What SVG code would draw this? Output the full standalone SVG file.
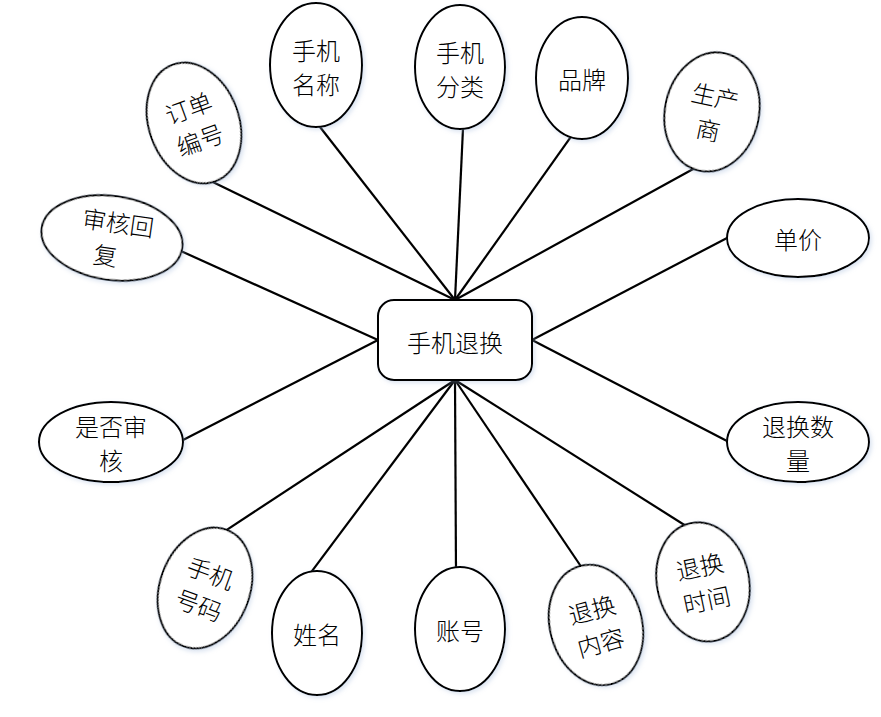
<svg xmlns="http://www.w3.org/2000/svg" width="881" height="717" viewBox="0 0 881 717">
<style>
.n{fill:#fff;stroke:#000;stroke-width:2;filter:url(#sh)}
.t{font-family:"Noto Sans CJK SC","Noto Sans",sans-serif;font-size:24px;font-weight:300;fill:#000;text-anchor:middle;dominant-baseline:central}
.c{stroke:#000;stroke-width:2.2;fill:none}
</style>
<defs>
<filter id="sh" x="-20%" y="-20%" width="140%" height="140%">
<feDropShadow dx="2" dy="2" stdDeviation="2" flood-color="#9bb4d6" flood-opacity="0.35"/>
</filter>
</defs>
<rect width="881" height="717" fill="#fff"/>
<g id="connectors">
<line class="c" x1="207.6" y1="179.4" x2="455" y2="300"/>
<line class="c" x1="316.3" y1="122.3" x2="455" y2="300"/>
<line class="c" x1="463.3" y1="122" x2="455" y2="300"/>
<line class="c" x1="573.5" y1="133.1" x2="455" y2="300"/>
<line class="c" x1="695" y1="168" x2="455" y2="300"/>
<line class="c" x1="732.3" y1="235.2" x2="532" y2="340"/>
<line class="c" x1="177.5" y1="249.5" x2="378" y2="340"/>
<line class="c" x1="177.7" y1="442.7" x2="378" y2="340"/>
<line class="c" x1="732.3" y1="443.8" x2="532" y2="340"/>
<line class="c" x1="223" y1="532.3" x2="455" y2="380"/>
<line class="c" x1="308.4" y1="575.8" x2="455" y2="380"/>
<line class="c" x1="456" y1="573" x2="455" y2="380"/>
<line class="c" x1="583.4" y1="570" x2="455" y2="380"/>
<line class="c" x1="688" y1="527.2" x2="455" y2="380"/>
</g>
<g id="center">
<rect class="n" x="378" y="300" width="154" height="80" rx="16"/>
<text class="t" x="455" y="341" font-size="25">手机退换</text>
</g>
<g id="dingdanbianhao" transform="translate(194,123) rotate(-20)">
<ellipse class="n" rx="45" ry="62"/>
<text class="t" y="-17">订单</text><text class="t" y="17">编号</text>
</g>
<g id="shoujimingcheng" transform="translate(316,65)">
<ellipse class="n" rx="46" ry="62"/>
<text class="t" y="-16">手机</text><text class="t" y="18">名称</text>
</g>
<g id="shoujifenlei" transform="translate(460,67)">
<ellipse class="n" rx="45" ry="62"/>
<text class="t" y="-16">手机</text><text class="t" y="18">分类</text>
</g>
<g id="pinpai" transform="translate(582,78)">
<ellipse class="n" rx="46" ry="61"/>
<text class="t">品牌</text>
</g>
<g id="shengchanshang" transform="translate(712,112) rotate(12)">
<ellipse class="n" rx="47" ry="60"/>
<text class="t" y="-17">生产</text><text class="t" y="17">商</text>
</g>
<g id="danjia" transform="translate(798,238)">
<ellipse class="n" rx="71" ry="39"/>
<text class="t">单价</text>
</g>
<g id="shenhehuifu" transform="translate(112,238) rotate(8)">
<ellipse class="n" rx="71" ry="42"/>
<text class="t" x="4" y="-17">审核回</text><text class="t" x="-4" y="17">复</text>
</g>
<g id="shifoushenhe" transform="translate(111,442)">
<ellipse class="n" rx="72" ry="40"/>
<text class="t" y="-17">是否审</text><text class="t" y="17">核</text>
</g>
<g id="tuihuanshuliang" transform="translate(798,442)">
<ellipse class="n" rx="71" ry="40"/>
<text class="t" y="-17">退换数</text><text class="t" y="17">量</text>
</g>
<g id="shoujihaoma" transform="translate(205,588) rotate(20)">
<ellipse class="n" rx="45" ry="62"/>
<text class="t" y="-17">手机</text><text class="t" y="17">号码</text>
</g>
<g id="xingming" transform="translate(317,633)">
<ellipse class="n" rx="45" ry="62"/>
<text class="t">姓名</text>
</g>
<g id="zhanghao" transform="translate(460,629)">
<ellipse class="n" rx="45" ry="62"/>
<text class="t">账号</text>
</g>
<g id="tuihuanneirong" transform="translate(596,625) rotate(-15)">
<ellipse class="n" rx="46" ry="61"/>
<text class="t" y="-17">退换</text><text class="t" y="17">内容</text>
</g>
<g id="tuihuanshijian" transform="translate(703,582) rotate(-12)">
<ellipse class="n" rx="46" ry="60"/>
<text class="t" y="-17">退换</text><text class="t" y="17">时间</text>
</g>
</svg>
